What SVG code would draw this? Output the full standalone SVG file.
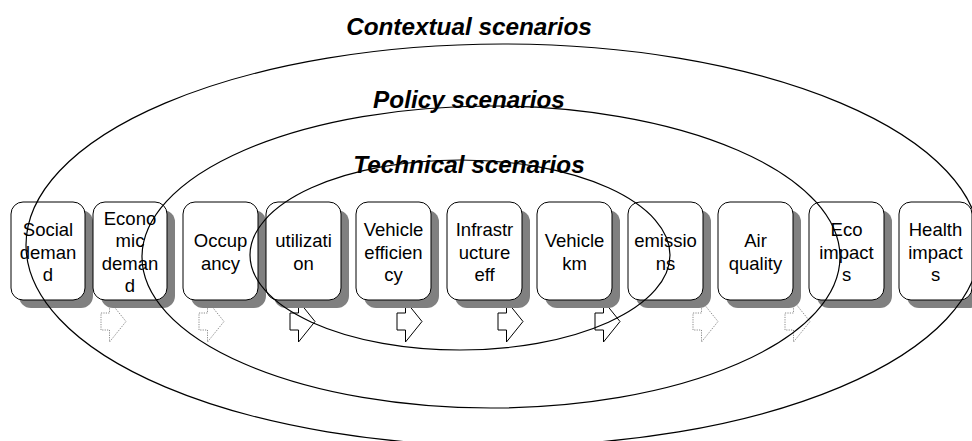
<svg xmlns="http://www.w3.org/2000/svg" width="972" height="441" viewBox="0 0 972 441">
<style>
.shadow{fill:#808080;stroke:none}
.box{fill:#fff;stroke:#000;stroke-width:1}
.lbl{font-family:"Liberation Sans",Arial,sans-serif;font-size:18.5px;fill:#000;text-anchor:middle}
.title{font-family:"Liberation Sans",Arial,sans-serif;font-size:24.3px;font-weight:bold;font-style:italic;fill:#000;text-anchor:middle}
.arr{fill:#fff;stroke:#000;stroke-width:1}
.arrd{fill:#fff;stroke:#8a8a8a;stroke-width:1;stroke-dasharray:1.2,1.2}
.ell{fill:none;stroke:#000;stroke-width:1.2}
</style>
<defs>
<path id="ar" d="M0,313 H8.5 V301 L25,321.5 L8.5,342 V330 H0 Z"/>
</defs>
<rect width="972" height="441" fill="#fff"/>
<g id="titles">
<text class="title" x="469" y="35">Contextual scenarios</text>
<text class="title" x="469" y="108">Policy scenarios</text>
<text class="title" x="469" y="173">Technical scenarios</text>
</g>
<g id="connectors">
<use href="#ar" class="arrd" x="101"/>
<use href="#ar" class="arrd" x="199"/>
<use href="#ar" class="arr" x="290"/>
<use href="#ar" class="arr" x="397"/>
<use href="#ar" class="arr" x="498"/>
<use href="#ar" class="arr" x="595"/>
<use href="#ar" class="arrd" x="693"/>
<use href="#ar" class="arrd" x="785"/>
</g>
<g id="n-social"><rect class="shadow" x="19" y="210" width="74" height="98" rx="12"/><rect class="box" x="11" y="202" width="74" height="98" rx="12"/><text class="lbl" x="48"><tspan x="48" y="236">Social</tspan><tspan x="48" y="258.5">deman</tspan><tspan x="48" y="281">d</tspan></text></g>
<g id="n-economic"><rect class="shadow" x="101" y="210" width="74" height="98" rx="12"/><rect class="box" x="93" y="202" width="74" height="98" rx="12"/><text class="lbl" x="130"><tspan x="130" y="224.5">Econo</tspan><tspan x="130" y="247">mic</tspan><tspan x="130" y="269.5">deman</tspan><tspan x="130" y="292">d</tspan></text></g>
<g id="n-occupancy"><rect class="shadow" x="191" y="210" width="75" height="98" rx="12"/><rect class="box" x="183" y="202" width="75" height="98" rx="12"/><text class="lbl" x="220.5"><tspan x="220.5" y="247">Occup</tspan><tspan x="220.5" y="269.5">ancy</tspan></text></g>
<g id="n-utilization"><rect class="shadow" x="274" y="210" width="75" height="98" rx="12"/><rect class="box" x="266" y="202" width="75" height="98" rx="12"/><text class="lbl" x="303.5"><tspan x="303.5" y="247">utilizati</tspan><tspan x="303.5" y="269.5">on</tspan></text></g>
<g id="n-vehicle-efficiency"><rect class="shadow" x="364" y="210" width="75" height="98" rx="12"/><rect class="box" x="356" y="202" width="75" height="98" rx="12"/><text class="lbl" x="393.5"><tspan x="393.5" y="236">Vehicle</tspan><tspan x="393.5" y="258.5">efficien</tspan><tspan x="393.5" y="281">cy</tspan></text></g>
<g id="n-infrastructure"><rect class="shadow" x="455" y="210" width="75" height="98" rx="12"/><rect class="box" x="447" y="202" width="75" height="98" rx="12"/><text class="lbl" x="484.5"><tspan x="484.5" y="236">Infrastr</tspan><tspan x="484.5" y="258.5">ucture</tspan><tspan x="484.5" y="281">eff</tspan></text></g>
<g id="n-vehicle-km"><rect class="shadow" x="545" y="210" width="75" height="98" rx="12"/><rect class="box" x="537" y="202" width="75" height="98" rx="12"/><text class="lbl" x="574.5"><tspan x="574.5" y="247">Vehicle</tspan><tspan x="574.5" y="269.5">km</tspan></text></g>
<g id="n-emissions"><rect class="shadow" x="636" y="210" width="75" height="98" rx="12"/><rect class="box" x="628" y="202" width="75" height="98" rx="12"/><text class="lbl" x="665.5"><tspan x="665.5" y="247">emissio</tspan><tspan x="665.5" y="269.5">ns</tspan></text></g>
<g id="n-air-quality"><rect class="shadow" x="726" y="210" width="75" height="98" rx="12"/><rect class="box" x="718" y="202" width="75" height="98" rx="12"/><text class="lbl" x="755.5"><tspan x="755.5" y="247">Air</tspan><tspan x="755.5" y="269.5">quality</tspan></text></g>
<g id="n-eco-impacts"><rect class="shadow" x="817" y="210" width="75" height="98" rx="12"/><rect class="box" x="809" y="202" width="75" height="98" rx="12"/><text class="lbl" x="846.5"><tspan x="846.5" y="236">Eco</tspan><tspan x="846.5" y="258.5">impact</tspan><tspan x="846.5" y="281">s</tspan></text></g>
<g id="n-health-impacts"><rect class="shadow" x="907" y="210" width="74" height="98" rx="12"/><rect class="box" x="899" y="202" width="73" height="98" rx="12"/><text class="lbl" x="935.5"><tspan x="935.5" y="236">Health</tspan><tspan x="935.5" y="258.5">impact</tspan><tspan x="935.5" y="281">s</tspan></text></g>
<g id="scenario-ellipses">
<ellipse class="ell" cx="503" cy="245" rx="477" ry="201"/>
<ellipse class="ell" cx="491" cy="257" rx="349" ry="151"/>
<ellipse class="ell" cx="460" cy="255" rx="210" ry="95"/>
</g>
</svg>
